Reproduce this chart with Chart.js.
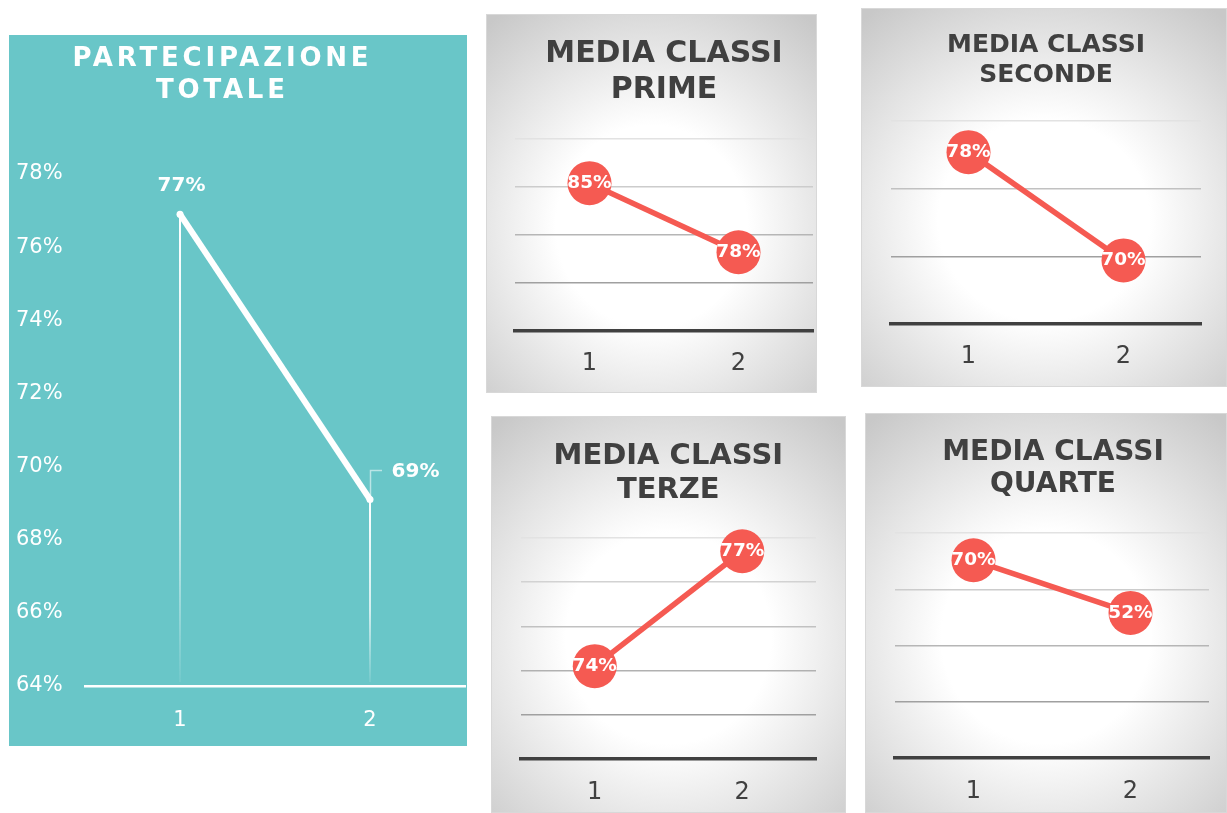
<!DOCTYPE html>
<html>
<head>
<meta charset="utf-8">
<script src="https://cdn.jsdelivr.net/npm/chart.js@4.4.1/dist/chart.umd.min.js"></script>
<style>
  body { margin: 0; width: 1227px; height: 813px; overflow: hidden; position: relative; background: #fff; }
  .pannello { position: absolute; }
  .verde { background: #69c6c8; }
  .grigio {
    background: radial-gradient(ellipse 76% 70% at 50% 56%, #ffffff 38%, #c8c8c8 100%);
    box-shadow: inset 0 0 0 1px #d8d8d8;
  }
  canvas { display: block; }
</style>
</head>
<body>
<div class="pannello verde" id="p0"><canvas id="totale"></canvas></div>
<div class="pannello grigio" id="p1"><canvas id="prime"></canvas></div>
<div class="pannello grigio" id="p2"><canvas id="seconde"></canvas></div>
<div class="pannello grigio" id="p3"><canvas id="terze"></canvas></div>
<div class="pannello grigio" id="p4"><canvas id="quarte"></canvas></div>
<script>
// dati
const categorie = ["1", "2"];
const partecipazioneTotale = [76.9, 69.1];
const classiPrime = [85.4, 78.2];
const classiSeconde = [77.7, 69.7];
const classiTerze = [74.1, 76.7];
const classiQuarte = [70.3, 51.6];

// tacche degli assi y
const tickTotale = [64, 66, 68, 70, 72, 74, 76, 78];
const tickPrime = [70, 75, 80, 85, 90];
const tickSeconde = [65, 70, 75, 80];
const tickTerze = [72, 73, 74, 75, 76, 77];
const tickQuarte = [0, 20, 40, 60, 80];

const ROSSO = "#f55a52";
Chart.defaults.font.family = "'DejaVu Sans', Verdana, sans-serif";

// titolo disegnato sul canvas (serve la spaziatura tra lettere)
const pannelloTitolo = {
  id: "pannelloTitolo",
  afterDraw(chart, args, opts) {
    const ctx = chart.ctx;
    const sp = opts.spacing || 0;
    ctx.save();
    ctx.fillStyle = opts.color;
    ctx.font = "bold " + opts.size + "px 'DejaVu Sans'";
    ctx.textAlign = "center";
    ctx.textBaseline = "middle";
    if (sp) ctx.letterSpacing = sp + "px";
    opts.lines.forEach((t, i) => ctx.fillText(t, opts.x + sp / 2, opts.y[i]));
    ctx.restore();
  }
};

// etichette dei valori
const etichette = {
  id: "etichette",
  afterDatasetsDraw(chart, args, opts) {
    const ctx = chart.ctx;
    const meta = chart.getDatasetMeta(0);
    const dati = chart.data.datasets[0].data;
    ctx.save();
    ctx.font = "bold " + opts.size + "px 'DejaVu Sans'";
    ctx.fillStyle = opts.color;
    ctx.textAlign = "center";
    ctx.textBaseline = "middle";
    meta.data.forEach((p, i) => {
      const off = opts.offsets ? opts.offsets[i] : [0, 0];
      ctx.fillText(Math.round(dati[i]) + "%", p.x + off[0], p.y + off[1]);
    });
    ctx.restore();
  }
};

// linee verticali che sfumano verso l'asse + richiamo dell'etichetta
const lineeGuida = {
  id: "lineeGuida",
  beforeDatasetsDraw(chart) {
    const ctx = chart.ctx;
    const fondo = chart.chartArea.bottom;
    const meta = chart.getDatasetMeta(0);
    ctx.save();
    meta.data.forEach((p) => {
      const g = ctx.createLinearGradient(0, p.y, 0, fondo);
      g.addColorStop(0, "rgba(255,255,255,1)");
      g.addColorStop(0.6, "rgba(255,255,255,0.7)");
      g.addColorStop(1, "rgba(255,255,255,0.05)");
      ctx.strokeStyle = g;
      ctx.lineWidth = 2;
      ctx.beginPath();
      ctx.moveTo(p.x, p.y);
      ctx.lineTo(p.x, fondo - 4);
      ctx.stroke();
    });
    const p = meta.data[1];
    ctx.strokeStyle = "rgba(255,255,255,0.55)";
    ctx.lineWidth = 1.5;
    ctx.beginPath();
    ctx.moveTo(p.x + 0.5, p.y);
    ctx.lineTo(p.x + 0.5, p.y - 29);
    ctx.lineTo(p.x + 12, p.y - 29);
    ctx.stroke();
    ctx.restore();
  }
};

function posiziona(idPannello, idCanvas, box) {
  const div = document.getElementById(idPannello);
  div.style.left = box.x + "px";
  div.style.top = box.y + "px";
  div.style.width = box.w + "px";
  div.style.height = box.h + "px";
  const c = document.getElementById(idCanvas);
  c.width = box.w;
  c.height = box.h;
  c.style.width = box.w + "px";
  c.style.height = box.h + "px";
  return c;
}

// grafico grande
(function () {
  const box = { x: 9, y: 35, w: 458, h: 711 };
  const area = { l: 85, r: 465, t: 174, b: 686 };
  const XH = 50;
  const c = posiziona("p0", "totale", box);
  new Chart(c, {
    type: "line",
    data: {
      labels: categorie,
      datasets: [{
        data: partecipazioneTotale,
        borderColor: "#ffffff",
        borderWidth: 6,
        pointRadius: 3.5,
        pointBackgroundColor: "#ffffff",
        pointBorderWidth: 0,
        tension: 0,
        clip: false
      }]
    },
    options: {
      responsive: false,
      animation: false,
      layout: {
        autoPadding: false,
        padding: {
          left: 7,
          right: box.x + box.w - area.r,
          top: area.t - box.y,
          bottom: box.y + box.h - area.b - XH
        }
      },
      scales: {
        x: {
          offset: true,
          grid: { display: false, drawTicks: false },
          border: { display: true, color: "#ffffff", width: 2.5 },
          ticks: { color: "#ffffff", font: { size: 21 }, padding: 22 },
          afterFit: (s) => { s.height = XH; }
        },
        y: {
          min: tickTotale[0],
          max: tickTotale[tickTotale.length - 1],
          grid: { display: false, drawTicks: false },
          border: { display: false },
          ticks: {
            stepSize: tickTotale[1] - tickTotale[0],
            color: "#ffffff",
            font: { size: 21 },
            crossAlign: "far",
            callback: (v) => v + "%"
          },
          afterFit: (s) => { s.width = area.l - box.x - 7; }
        }
      },
      plugins: {
        legend: { display: false },
        tooltip: { enabled: false },
        pannelloTitolo: {
          lines: ["PARTECIPAZIONE", "TOTALE"],
          size: 26, spacing: 3.8, color: "#ffffff",
          x: 220.5 - box.x, y: [59 - box.y, 91 - box.y]
        },
        etichette: { size: 20, color: "#ffffff", offsets: [[1.5, -28], [45.5, -27.5]] }
      }
    },
    plugins: [lineeGuida, etichette, pannelloTitolo]
  });
})();

// grafici piccoli
function coloreGriglia(i, n) {
  const t = (i - 1) / Math.max(1, n - 2);
  const v = Math.round(160 + t * (226 - 160));
  return "rgb(" + v + "," + v + "," + v + ")";
}

function graficoPiccolo(idPannello, idCanvas, box, area, valori, tacche, titolo, padTick) {
  const XH = 50;
  const c = posiziona(idPannello, idCanvas, box);
  const n = tacche.length;
  new Chart(c, {
    type: "line",
    data: {
      labels: categorie,
      datasets: [{
        data: valori,
        borderColor: ROSSO,
        borderWidth: 5.5,
        pointRadius: 22,
        pointBackgroundColor: ROSSO,
        pointBorderWidth: 0,
        tension: 0,
        clip: false
      }]
    },
    options: {
      responsive: false,
      animation: false,
      layout: {
        autoPadding: false,
        padding: {
          left: area.l - box.x,
          right: box.x + box.w - area.r,
          top: area.t - box.y,
          bottom: box.y + box.h - area.b - XH
        }
      },
      scales: {
        x: {
          offset: true,
          grid: { display: false, drawTicks: false },
          border: { display: true, color: "#404040", width: 3.5 },
          ticks: { color: "#404040", font: { size: 24 }, padding: padTick },
          afterFit: (s) => { s.height = XH; }
        },
        y: {
          min: tacche[0],
          max: tacche[n - 1],
          grid: {
            drawTicks: false,
            lineWidth: 1.5,
            color: (ctx) => ctx.index === 0 ? "rgba(0,0,0,0)" : coloreGriglia(ctx.index, n)
          },
          border: { display: false },
          ticks: { display: false, stepSize: tacche[1] - tacche[0] },
          afterFit: (s) => { s.width = 0; }
        }
      },
      plugins: {
        legend: { display: false },
        tooltip: { enabled: false },
        pannelloTitolo: {
          lines: titolo.righe, size: titolo.size, color: "#404040",
          x: titolo.x - box.x, y: titolo.y.map((v) => v - box.y)
        },
        etichette: { size: 18.5, color: "#ffffff" }
      }
    },
    plugins: [etichette, pannelloTitolo]
  });
}

graficoPiccolo("p1", "prime",
  { x: 486, y: 14, w: 331, h: 379 }, { l: 515, r: 813, t: 139, b: 331 },
  classiPrime, tickPrime,
  { righe: ["MEDIA CLASSI", "PRIME"], size: 30, x: 664, y: [54, 90] }, 18);

graficoPiccolo("p2", "seconde",
  { x: 861, y: 8, w: 366, h: 379 }, { l: 891, r: 1201, t: 121, b: 324 },
  classiSeconde, tickSeconde,
  { righe: ["MEDIA CLASSI", "SECONDE"], size: 25, x: 1046, y: [45, 75] }, 18);

graficoPiccolo("p3", "terze",
  { x: 491, y: 416, w: 355, h: 397 }, { l: 521, r: 816, t: 538, b: 759 },
  classiTerze, tickTerze,
  { righe: ["MEDIA CLASSI", "TERZE"], size: 29, x: 668.3, y: [456, 490] }, 19);

graficoPiccolo("p4", "quarte",
  { x: 865, y: 413, w: 362, h: 400 }, { l: 895, r: 1209, t: 533, b: 758 },
  classiQuarte, tickQuarte,
  { righe: ["MEDIA CLASSI", "QUARTE"], size: 28, x: 1053, y: [452.5, 485] }, 19);
</script>
</body>
</html>
